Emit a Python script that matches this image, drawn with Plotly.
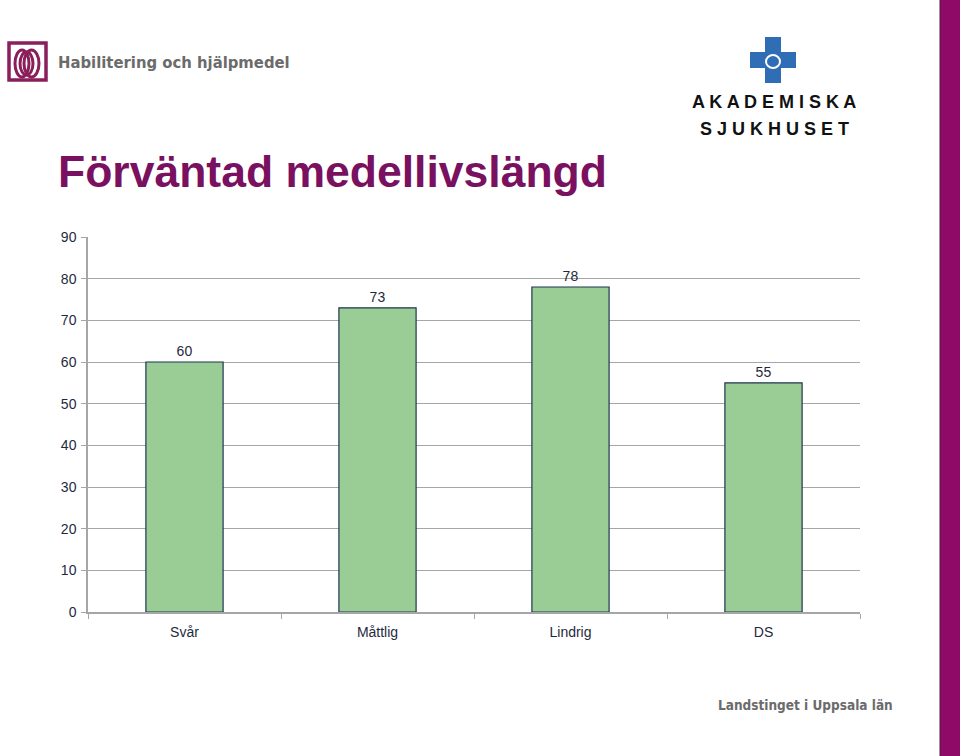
import plotly.graph_objects as go

categories = ["Svår", "Måttlig", "Lindrig", "DS"]
values = [60, 73, 78, 55]
y_ticks = [0, 10, 20, 30, 40, 50, 60, 70, 80, 90]

W, H = 960, 756
TOP, HH = 8, 740  # observed rendered paper offset/height in the viewer
def px(x):
    return x / W
def py(y):
    return 1 - (y - TOP) / HH

fig = go.Figure()
fig.add_trace(go.Bar(
    x=categories, y=values,
    marker=dict(color="#9ACC95", line=dict(color="#1F3550", width=1.2)),
    width=0.4,
    text=[str(v) for v in values], textposition="outside",
    textfont=dict(family="Arial, Liberation Sans, sans-serif", size=14, color="#1F2A40"),
    cliponaxis=False,
))

axis_font = dict(family="Arial, Liberation Sans, sans-serif", size=14, color="#1F2A40")
fig.update_layout(
    width=W, height=H, autosize=False,
    margin=dict(l=0, r=0, t=0, b=0, pad=0),
    paper_bgcolor="white", plot_bgcolor="white",
    showlegend=False,
    bargap=0.6,
    xaxis=dict(domain=[px(88), px(860)], showline=True, linecolor="#A6A6A6", linewidth=1.5,
               ticks="outside", tickson="boundaries", ticklen=5, tickcolor="#A6A6A6",
               ticklabelstandoff=6,
               tickfont=axis_font, showgrid=False),
    yaxis=dict(domain=[py(612), py(237)], range=[0, 90], tickvals=y_ticks,
               showline=True, linecolor="#A6A6A6", linewidth=1.5,
               ticks="outside", ticklen=5, tickcolor="#A6A6A6", ticklabelstandoff=2,
               showgrid=True, gridcolor="#A6A6A6", gridwidth=1.3,
               tickfont=axis_font, zeroline=False),
)

# Title
fig.add_annotation(text="<b>Förväntad medellivslängd</b>", xref="paper", yref="paper",
                   x=px(56), y=py(172), xanchor="left", yanchor="middle", showarrow=False,
                   font=dict(family="Arial, Liberation Sans, sans-serif", size=44.5, color="#7A1060"))

# Habilitering logo
fig.add_shape(type="rect", xref="paper", yref="paper", x0=px(9), x1=px(46), y0=py(80), y1=py(43),
              line=dict(color="#8B1F5C", width=3.5), fillcolor="white")
fig.add_shape(type="circle", xref="paper", yref="paper", x0=px(15), x1=px(29), y0=py(77), y1=py(50),
              line=dict(color="#8B1F5C", width=3), fillcolor="white")
fig.add_shape(type="circle", xref="paper", yref="paper", x0=px(24), x1=px(39), y0=py(77), y1=py(50),
              line=dict(color="#8B1F5C", width=3), fillcolor="rgba(0,0,0,0)")
fig.add_shape(type="circle", xref="paper", yref="paper", x0=px(20), x1=px(33), y0=py(75), y1=py(52),
              line=dict(color="#8B1F5C", width=3), fillcolor="rgba(0,0,0,0)")
fig.add_annotation(text="<b>Habilitering och hjälpmedel</b>", xref="paper", yref="paper",
                   x=px(56), y=py(62), xanchor="left", yanchor="middle", showarrow=False,
                   font=dict(family="DejaVu Sans Condensed, Liberation Sans Narrow, sans-serif", size=16.5, color="#6B6B6B"))

# Akademiska logo: blue cross
cx, cy = 773, 60
a, b = 23, 8
path = (f"M {px(cx-b)} {py(cy-a)} L {px(cx+b)} {py(cy-a)} L {px(cx+b)} {py(cy-b)} "
        f"L {px(cx+a)} {py(cy-b)} L {px(cx+a)} {py(cy+b)} L {px(cx+b)} {py(cy+b)} "
        f"L {px(cx+b)} {py(cy+a)} L {px(cx-b)} {py(cy+a)} L {px(cx-b)} {py(cy+b)} "
        f"L {px(cx-a)} {py(cy+b)} L {px(cx-a)} {py(cy-b)} L {px(cx-b)} {py(cy-b)} Z")
fig.add_shape(type="path", xref="paper", yref="paper", path=path,
              fillcolor="#2F6DB5", line=dict(width=0))
fig.add_shape(type="circle", xref="paper", yref="paper", x0=px(766), x1=px(780), y0=py(68), y1=py(55),
              line=dict(color="white", width=2), fillcolor="rgba(0,0,0,0)")
fig.add_annotation(text="<b>A K A D E M I S K A</b>", xref="paper", yref="paper",
                   x=px(774), y=py(102), xanchor="center", yanchor="middle", showarrow=False,
                   font=dict(family="Arial, Liberation Sans, sans-serif", size=18, color="#111111"))
fig.add_annotation(text="<b>S J U K H U S E T</b>", xref="paper", yref="paper",
                   x=px(774), y=py(129), xanchor="center", yanchor="middle", showarrow=False,
                   font=dict(family="Arial, Liberation Sans, sans-serif", size=18, color="#111111"))

# Bottom-right text
fig.add_annotation(text="<b>Landstinget i Uppsala län</b>", xref="paper", yref="paper",
                   x=px(716), y=py(705), xanchor="left", yanchor="middle", showarrow=False,
                   font=dict(family="DejaVu Sans Condensed, Liberation Sans Narrow, sans-serif", size=13.5, color="#6B6B6B"))

# Right magenta stripe
fig.add_shape(type="rect", xref="paper", yref="paper", x0=px(940), x1=1.01, y0=-0.02, y1=1.02,
              fillcolor="#8E0A66", line=dict(color="#4A1A3A", width=1))

fig.write_html("out.html",
               config=dict(displayModeBar=False, responsive=False),
               post_script=("document.body.style.margin='0';document.body.style.overflow='hidden';"
                            "document.body.style.background='linear-gradient(to right, #ffffff 940px, #8E0A66 940px)';"))
